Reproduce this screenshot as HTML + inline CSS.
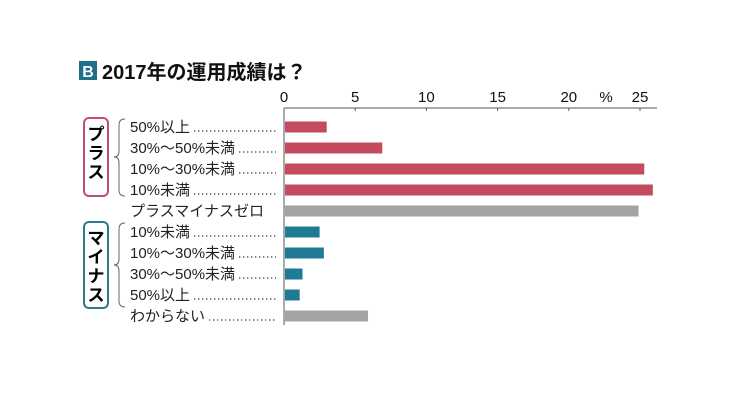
<!DOCTYPE html>
<html><head><meta charset="utf-8"><style>
body{margin:0;background:#fff;}
svg text{font-family:"Liberation Sans","Noto Sans CJK JP",sans-serif;}
</style></head><body>
<svg width="750" height="400" xmlns="http://www.w3.org/2000/svg">
<rect x="79" y="61" width="18" height="19" fill="#1f6e8a"/>
<text x="88" y="77" font-size="16" fill="#fff" text-anchor="middle" font-weight="bold">B</text>
<text x="102" y="79" font-size="20" font-weight="bold" fill="#111">2017年の運用成績は？</text>
<g id="axis"></g>
<g id="bars"></g>
<g id="labels"></g>
<rect x="84" y="118" width="24" height="78" rx="5" fill="none" stroke="#c0506a" stroke-width="2"/>
<text x="96" y="140" font-size="17" font-weight="bold" text-anchor="middle"><tspan x="96" dy="0">プ</tspan><tspan x="96" dy="19">ラ</tspan><tspan x="96" dy="19">ス</tspan></text>
<rect x="84" y="222" width="24" height="86" rx="5" fill="none" stroke="#2a7a92" stroke-width="2"/>
<text x="96" y="244" font-size="17" font-weight="bold" text-anchor="middle"><tspan x="96" dy="0">マ</tspan><tspan x="96" dy="19">イ</tspan><tspan x="96" dy="19">ナ</tspan><tspan x="96" dy="19">ス</tspan></text>
<path d="M125 119 Q119 119 119 125 L119 151 Q119 157 114 157 Q119 157 119 163 L119 190 Q119 196 125 196" fill="none" stroke="#666" stroke-width="1"/>
<path d="M125 223 Q119 223 119 229 L119 259 Q119 265 114 265 Q119 265 119 271 L119 301 Q119 307 125 307" fill="none" stroke="#666" stroke-width="1"/>
</svg>
<script>
const categories=["50%以上","30%～50%未満","10%～30%未満","10%未満","プラスマイナスゼロ","10%未満","10%～30%未満","30%～50%未満","50%以上","わからない"];
const values=[3.0,6.9,25.3,25.9,24.9,2.5,2.8,1.3,1.1,5.9];
const groups=["plus","plus","plus","plus","zero","minus","minus","minus","minus","unknown"];
const tickValues=[0,5,10,15,20,25];
const tickLabels=["0","5","10","15","20","25"];
const NS="http://www.w3.org/2000/svg";
const x0=284,x25=640,yTop=108,yBottom=325,rowStart=127,rowStep=21,barH=11;
const xs=v=>x0+(x25-x0)*v/25;
const ys=i=>rowStart+i*rowStep;
const colors={plus:"#c44a5e",minus:"#1f7a96",zero:"#a3a3a3",unknown:"#a3a3a3"};
function mk(t,a){const e=document.createElementNS(NS,t);for(const k in a)e.setAttribute(k,a[k]);return e;}
const ax=document.getElementById('axis');
let l=mk('line',{x1:x0,y1:yTop,x2:657,y2:yTop,stroke:"#555","stroke-width":1});


ax.appendChild(l);
l=mk('line',{x1:x0,y1:yTop,x2:x0,y2:yBottom,stroke:"#555","stroke-width":1});


ax.appendChild(l);
tickValues.forEach((v,i)=>{
 const t=mk('line',{x1:xs(v),y1:yTop,x2:xs(v),y2:yTop+3,stroke:"#555"});
 
 
 ax.appendChild(t);
 const tx=mk('text',{x:xs(v),y:102,"font-size":15,"text-anchor":"middle",fill:"#111"});
 tx.textContent=tickLabels[i];
 
 
 ax.appendChild(tx);
});
const pc=mk('text',{x:606,y:102,"font-size":15,"text-anchor":"middle",fill:"#111"});
pc.textContent="%";


ax.appendChild(pc);
const bg=document.getElementById('bars'),lg=document.getElementById('labels');
values.forEach((v,i)=>{
 const r=mk('rect',{x:x0+1,y:ys(i)-barH/2,width:xs(v)-x0-1,height:barH,fill:colors[groups[i]]});
 
 
 bg.appendChild(r);
 const t=mk('text',{x:130,y:ys(i)+5,"font-size":15,fill:"#222"});
 t.textContent=categories[i];
 
 
 lg.appendChild(t);
 if(groups[i]!=="zero"){
  const w=t.getComputedTextLength();
  const d=mk('line',{x1:130+w+4,y1:ys(i)+4,x2:276,y2:ys(i)+4,stroke:"#333","stroke-width":1.3,"stroke-dasharray":"1.3 2.7"});
  
  
  lg.appendChild(d);
 }
});
</script>
</body></html>
